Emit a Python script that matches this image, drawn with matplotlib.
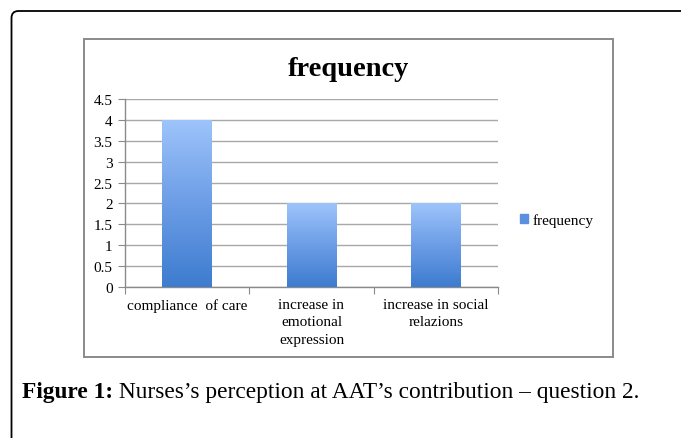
import matplotlib
matplotlib.use("Agg")
import matplotlib.pyplot as plt
import numpy as np
from matplotlib.patches import Rectangle, PathPatch, Patch
from matplotlib.path import Path
from matplotlib.colors import LinearSegmentedColormap

categories = ["compliance  of care", "increase in\nemotional\nexpression", "increase in social\nrelazions"]
values = [4, 2, 2]
yticks = [0, 0.5, 1, 1.5, 2, 2.5, 3, 3.5, 4, 4.5]
ytick_labels = ["0", "0.5", "1", "1.5", "2", "2.5", "3", "3.5", "4", "4.5"]
series_name = "frequency"
title = "frequency"
caption_bold = "Figure 1:"
caption_rest = " Nurses\u2019s perception at AAT\u2019s contribution \u2013 question 2."

W, H = 681, 439
fig = plt.figure(figsize=(W / 100, H / 100), dpi=100)
fig.patch.set_facecolor("white")

def fx(px):
    return px / W

def fy(py):
    return 1 - py / H

serif = ["Liberation Serif", "DejaVu Serif"]

# outer rounded border (only top and left visible)
r = 7
verts = [(fx(11.5), fy(439)), (fx(11.5), fy(12 + r)), (fx(11.5), fy(12)), (fx(11.5 + r), fy(12)), (fx(681), fy(12))]
codes = [Path.MOVETO, Path.LINETO, Path.CURVE3, Path.CURVE3, Path.LINETO]
fig.add_artist(PathPatch(Path(verts, codes), transform=fig.transFigure, fill=False,
                         edgecolor="black", linewidth=1.3))

# chart box
fig.add_artist(Rectangle((fx(83.5), fy(358)), fx(613 - 83.5), (358 - 40) / H,
                         transform=fig.transFigure, fill=False, edgecolor="#8a8a8a", linewidth=1.4))

ax = fig.add_axes([fx(125), fy(288), fx(498 - 125), (288 - 100) / H])
x = np.arange(len(categories))
bars = ax.bar(x, values, width=0.4, color="#5b8fe0", zorder=2, label=series_name)

cmap = LinearSegmentedColormap.from_list("g", ["#3d7ccf", "#6c9de6", "#9ec4fb"])
grad = np.linspace(0, 1, 256).reshape(-1, 1)
for b in bars:
    b.set_alpha(0)
    x0, y0 = b.get_x(), b.get_y()
    w, h = b.get_width(), b.get_height()
    im = ax.imshow(grad, extent=[x0, x0 + w, y0, y0 + h], origin="lower", cmap=cmap,
                   aspect="auto", zorder=3)
    clip = Rectangle((x0, y0), w, h, transform=ax.transData)
    im.set_clip_path(clip)

ax.set_xlim(-0.5, len(categories) - 0.5)
ax.set_ylim(0, 4.5)
ax.set_yticks(yticks)
ax.set_yticklabels(ytick_labels, fontfamily=serif, fontsize=11)
ax.set_xticks(np.arange(len(categories) + 1) - 0.5)
ax.set_xticklabels([])
ax.set_xticks(x, minor=True)
ax.set_xticklabels(categories, minor=True, fontfamily=serif, fontsize=11, linespacing=1.42)
ax.tick_params(axis="x", which="minor", length=0, pad=8)
ax.tick_params(axis="x", which="major", length=5, color="#8a8a8a", direction="out")
ax.tick_params(axis="y", length=5, color="#8a8a8a", pad=4)
ax.yaxis.grid(True, color="#a8a8a8", linewidth=1.0, zorder=0)
ax.set_axisbelow(True)
for s in ["top", "right"]:
    ax.spines[s].set_visible(False)
ax.spines["left"].set_color("#8a8a8a")
ax.spines["bottom"].set_color("#8a8a8a")
ax.spines["left"].set_linewidth(1.0)
ax.spines["bottom"].set_linewidth(1.0)
ax.set_facecolor("none")

fig.text(fx(348), fy(70), title, ha="center", va="center", fontfamily=serif,
         fontweight="bold", fontsize=20.5)

# legend
handle = Patch(facecolor="#5b8fe0", edgecolor="#5b8fe0")
fig.legend([handle], [series_name], loc="center left", bbox_to_anchor=(fx(520), fy(221)),
           frameon=False, prop={"family": serif, "size": 11}, handlelength=0.5,
           handleheight=0.5, handletextpad=0.3, borderpad=0, borderaxespad=0)

# caption
t1 = fig.text(fx(22), fy(393), caption_bold, ha="left", va="center", fontfamily=serif,
              fontweight="bold", fontsize=16.8)
fig.canvas.draw()
bb = t1.get_window_extent()
fig.text(bb.x1 / W, fy(393), caption_rest, ha="left", va="center", fontfamily=serif,
         fontsize=16.8)

fig.savefig("out.png", dpi=100)
